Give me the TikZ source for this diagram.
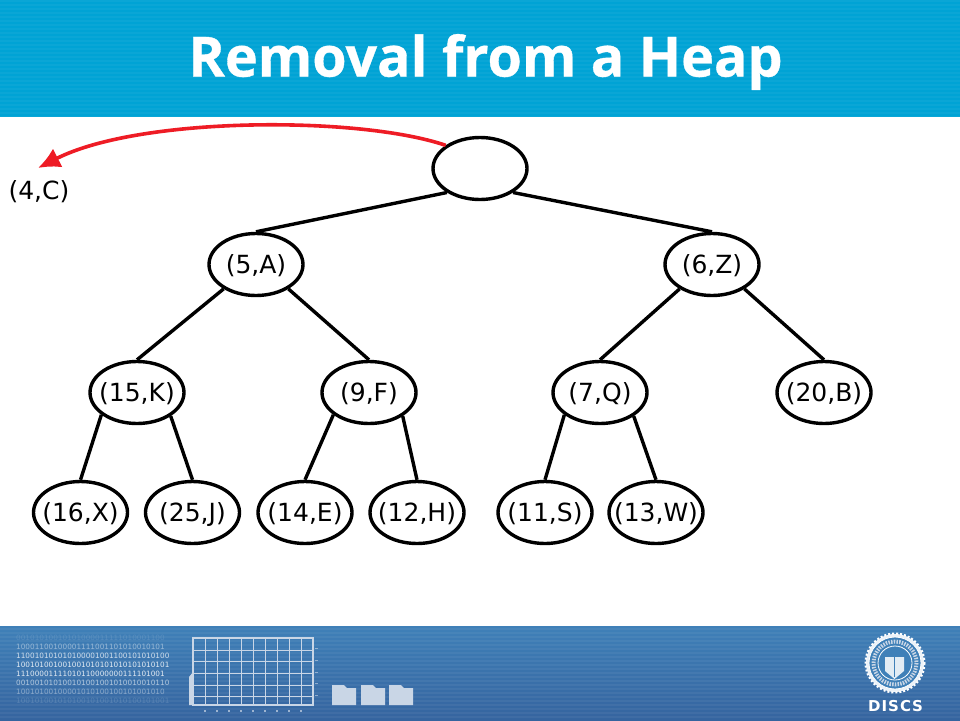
\documentclass[tikz,border=0pt]{standalone}
\usepackage{fontspec}
\setmainfont{DejaVu Sans}
\newfontfamily\titlefont[BoldFeatures={FakeBold=0.6}]{Open Sans}
\usetikzlibrary{arrows.meta,shapes.geometric}
\definecolor{bandblue}{HTML}{00A3D5}
\definecolor{footblueA}{HTML}{3F80B8}
\definecolor{footblueB}{HTML}{35649F}
\definecolor{arrowred}{HTML}{EE1C25}
\definecolor{pale}{HTML}{C9D6E6}
\newcommand{\heaptext}[1]{\makebox[0pt]{#1}}
\tikzset{
  x=1pt,y=-1pt,
  heapnode/.style={ellipse,draw=black,line width=3.4pt,fill=white,minimum width=94pt,minimum height=62pt,inner sep=0pt,text height=20pt,text depth=2pt,font=\fontsize{25}{28}\selectfont},
  heapedge/.style={draw=black,line width=3.4pt},
  moveedge/.style={draw=arrowred,line width=3.6pt,-{Latex[length=22pt,width=21pt]}},
  gridline/.style={draw=pale,line width=0.8pt},
  folderbox/.style={fill=pale},
  bits/.style={anchor=west,text=white,font=\fontsize{7.3}{8}\selectfont,inner sep=0pt},
}
\begin{document}
\begin{tikzpicture}
\useasboundingbox (0,0) rectangle (960,720);
\fill[white] (0,0) rectangle (960,720);
% title band
\fill[bandblue] (0,0) rectangle (960,117);
\foreach \y in {0,4,...,116} \fill[white,opacity=0.04] (0,\y) rectangle (960,\y+1.5);
\node[text=white,font=\titlefont\bfseries\fontsize{55.5}{60}\selectfont] (title) at (485.5,62) {Removal from a Heap};
% footer
\shade[top color=footblueA,bottom color=footblueB] (0,626) rectangle (960,720);
\foreach \y in {628,632,...,716} \fill[white,opacity=0.05] (0,\y) rectangle (960,\y+1.5);
\node[bits,opacity=0.12] at (16,638) {00101010010101000011111010001100};
\node[bits,opacity=0.45] at (16,647) {10001100100001111001101010010101};
\node[bits,opacity=0.75] at (16,656) {110010101010100001001100101010100};
\node[bits,opacity=0.85] at (16,665) {100101001001001010101010101010101};
\node[bits,opacity=0.85] at (16,674) {11100001111010110000000111101001};
\node[bits,opacity=0.6] at (16,683) {001001010100101001001010010010110};
\node[bits,opacity=0.4] at (16,692) {10010100100001010100100101001010};
\node[bits,opacity=0.15] at (16,701) {100101001010100101001010100101001};
% chart
\foreach \x in {205,217,229,241,253,265,277,289,301}
  \draw[gridline] (\x,638) -- (\x,705);
\foreach \y in {650,661,673,685,696}
  \draw[gridline,line width=0.5pt] (193,\y) -- (313,\y);
\draw[pale,line width=1.4pt] (193,638) rectangle (313,705);
\fill[pale] (189,677) -- (193,672) -- (193,705) -- (189,705) -- cycle;
\foreach \y in {648,660,672,683,695} \fill[pale,opacity=0.6] (315,\y) rectangle (318,\y+1);
\foreach \x in {205,217,229,241,253,265,277,289,301} \fill[pale,opacity=0.7] (\x-0.7,710) rectangle (\x+0.7,712);
% folders
\foreach \x in {332,361,389} {
  \fill[folderbox] (\x,705) -- (\x,685) -- (\x+12,685) -- (\x+15,688) -- (\x+24,688) -- (\x+24,705) -- cycle;
}
% seal
\fill[white!90!footblueA] (895,663) circle (29);
\draw[white,line width=2pt,dash pattern=on 2pt off 2pt] (895,663) circle (29.5);
\fill[footblueA] (895,663) circle (26);
\draw[white,line width=0.8pt] (895,663) circle (26);
\draw[white,line width=0.8pt] (895,663) circle (17);
\draw[pale,line width=4pt,dash pattern=on 1.5pt off 1.2pt] (895,663) circle (21.5);
\fill[white!85!footblueA] (885,657) -- (904,657) -- (904,671) -- (894.5,679) -- (885,671) -- cycle;
\draw[footblueA,line width=0.8pt] (894.5,657) -- (894.5,677);
\node[text=white,font=\bfseries\fontsize{15}{16}\selectfont,inner sep=0pt] (discs) at (895.5,706) {D\kern1ptI\kern1ptS\kern1ptC\kern1ptS};
% heap
\node[heapnode] (root) at (480,168.5) {};
\node[heapnode] (a) at (256,264.5) {\heaptext{(5,A)}};
\node[heapnode] (z) at (712,264.5) {\heaptext{(6,Z)}};
\node[heapnode] (k) at (137,392.5) {\heaptext{(15,K)}};
\node[heapnode] (f) at (369,392.5) {\heaptext{(9,F)}};
\node[heapnode] (q) at (600,392.5) {\heaptext{(7,Q)}};
\node[heapnode] (b) at (824,392.5) {\heaptext{(20,B)}};
\node[heapnode] (x) at (80.5,512.5) {\heaptext{(16,X)}};
\node[heapnode] (j) at (192.5,512.5) {\heaptext{(25,J)}};
\node[heapnode] (e) at (305,512.5) {\heaptext{(14,E)}};
\node[heapnode] (h) at (417,512.5) {\heaptext{(12,H)}};
\node[heapnode] (s) at (545,512.5) {\heaptext{(11,S)}};
\node[heapnode] (w) at (656,512.5) {\heaptext{(13,W)}};
\path[heapedge] (root.216) -- (a.north);
\path[heapedge] (root.324) -- (z.north);
\path[heapedge] (a.217) -- (k.north);
\path[heapedge] (a.323) -- (f.north);
\path[heapedge] (z.217) -- (q.north);
\path[heapedge] (z.323) -- (b.north);
\path[heapedge] (k.212) -- (x.north);
\path[heapedge] (k.325) -- (j.north);
\path[heapedge] (f.212) -- (e.north);
\path[heapedge] (f.325) -- (h.north);
\path[heapedge] (q.212) -- (s.north);
\path[heapedge] (q.325) -- (w.north);
% removed entry
\node[font=\fontsize{25}{28}\selectfont,inner sep=0pt,text height=20pt,text depth=2pt] (removed) at (39,190) {(4,C)};
\coordinate (tip) at (38,168);
\path[moveedge] (root.146) .. controls (360,116) and (140,116) .. (tip);
\end{tikzpicture}
\end{document}
